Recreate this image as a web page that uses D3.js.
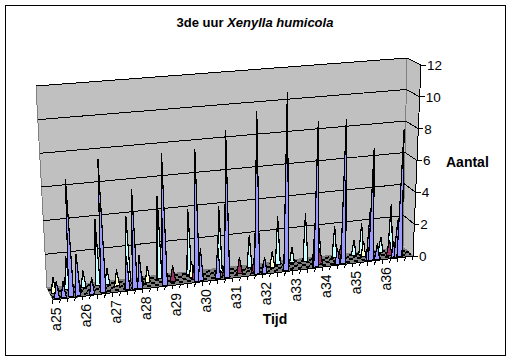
<!DOCTYPE html>
<html>
<head>
<meta charset="utf-8">
<script src="https://cdn.jsdelivr.net/npm/d3@7"></script>
<style>
  html, body { margin: 0; padding: 0; background: #fff; }
  text { font-family: "Liberation Sans", Arial, sans-serif; fill: #000; }
  .crisp { shape-rendering: crispEdges; }
</style>
</head>
<body>
<div id="chart"></div>
<script>
// tick labels along the time axis (each one covers 4 tick marks)
var timeLabels = ["a25","a26","a27","a28","a29","a30","a31","a32","a33","a34","a35","a36"];
var valueMax = 12;

// peaks: position in tick units, height in animals
var bluePos = [0.6,1.5,2.5,3.4,5.3,6.8,10,11,11.7,15,19.3,19.8,22.1,23.3,27.3,28.3,31.2,35,35.2,38,38.8,42.2,42.5,43.3,45.5,45.9,46.3];
var blueVal = [1,1,7,2.5,1,8,2,6,2,8,8,2,2,9,10,1,11,3,9,1,9,3,7,1,1,2.3,8];

var maroonPos = [3.7,12,16.3,19.2,23.3,25.2,27.2,35.9,38.7,45.2];
var maroonVal = [1,1,1,1,1,1,1,1,1,1];

var yellowPos = [0.5,9,13.1,19,29.8,42];
var yellowVal = [1,1,1,1,1,1];

var cyanPos = [2.5,4.7,6.6,7.9,10.7,14.9,18.9,23,27,30.8,32.7,34.5,36.3,38.4,41,42,44.6,45.9];
var cyanVal = [2,1,4,1,4,5,4,4,2,3,1,3,2,2,1,2,1,3];

var width = 512, height = 360;
var tickCount = timeLabels.length * 4;

var svg = d3.select("#chart").append("svg")
    .attr("width", width)
    .attr("height", height)
    .style("display", "block");

// chart frame
svg.append("rect")
    .attr("class", "crisp")
    .attr("x", 5).attr("y", 5)
    .attr("width", 500).attr("height", 350)
    .attr("fill", "#fff")
    .attr("stroke", "#000");

// the eight corners of the 3d box as excel drew them
var box = {
    frontBottom: [[53, 300], [413, 256]],
    frontTop: [[42, 97], [421, 65]],
    backBottom: [[47, 288], [403, 247]],
    backTop: [[36, 86], [407, 58]]
};

var catScale = d3.scaleLinear().domain([0, tickCount]).range([0, 1]);
var valScale = d3.scaleLinear().domain([0, valueMax]).range([0, 1]);

function mix(a, b, t) {
    return [a[0] + (b[0] - a[0]) * t, a[1] + (b[1] - a[1]) * t];
}

// cat along the time axis, val up, depth 0 = front, 1 = back
function project(cat, val, depth) {
    var t = catScale(cat), h = valScale(val);
    var bottom = mix(mix(box.frontBottom[0], box.frontBottom[1], t), mix(box.backBottom[0], box.backBottom[1], t), depth);
    var top = mix(mix(box.frontTop[0], box.frontTop[1], t), mix(box.backTop[0], box.backTop[1], t), depth);
    return mix(bottom, top, h);
}

var line = d3.line();

// walls
svg.append("path")
    .attr("class", "crisp")
    .attr("d", line([project(0, 0, 1), project(0, valueMax, 1), project(tickCount, valueMax, 1), project(tickCount, 0, 1)]) + "Z")
    .attr("fill", "#c0c0c0")
    .attr("stroke", "#808080");
svg.append("path")
    .attr("class", "crisp")
    .attr("d", line([project(tickCount, 0, 1), project(tickCount, valueMax, 1), project(tickCount, valueMax, 0), project(tickCount, 0, 0)]) + "Z")
    .attr("fill", "#c0c0c0")
    .attr("stroke", "#808080");

// floor
svg.append("path")
    .attr("class", "crisp")
    .attr("d", line([project(0, 0, 0), project(0, 0, 1), project(tickCount, 0, 1), project(tickCount, 0, 0)]) + "Z")
    .attr("fill", "#808080")
    .attr("stroke", "#808080");

// the zero lines of the series show up as dashes on the floor
var floorRows = [0.2, 0.42, 0.62, 0.82];
svg.selectAll(".floor-row")
    .data(floorRows)
    .enter().append("path")
    .attr("class", "floor-row crisp")
    .attr("d", function(d) { return line([project(0, 0, d), project(tickCount, 0, d)]); })
    .attr("stroke", "#000")
    .attr("stroke-width", 2)
    .attr("stroke-dasharray", "4 4")
    .attr("stroke-dashoffset", function(d, i) { return i * 3; });

// gridlines, back wall then side wall
var valueTicks = valScale.ticks(6);
svg.selectAll(".grid")
    .data(valueTicks.filter(function(d) { return d > 0; }))
    .enter().append("path")
    .attr("class", "grid crisp")
    .attr("d", function(d) {
        return line([project(0, d, 1), project(tickCount, d, 1), project(tickCount, d, 0)]);
    })
    .attr("fill", "none")
    .attr("stroke", "#000");

// spikes, back series first
var seriesList = [
    {pos: cyanPos, val: cyanVal, color: "#ccffff", depth: 0.72, half: 0.33},
    {pos: yellowPos, val: yellowVal, color: "#ffffcc", depth: 0.5, half: 0.33},
    {pos: maroonPos, val: maroonVal, color: "#993366", depth: 0.3, half: 0.38},
    {pos: bluePos, val: blueVal, color: "#9999ff", depth: 0.08, half: 0.34}
];

seriesList.forEach(function(s) {
    svg.append("g").selectAll("path")
        .data(s.pos)
        .enter().append("path")
        .attr("class", "crisp")
        .attr("d", function(d, i) {
            return line([
                project(d - s.half, 0, s.depth),
                project(d, s.val[i], s.depth),
                project(d + s.half, 0, s.depth)
            ]) + "Z";
        })
        .attr("fill", s.color)
        .attr("stroke", "#000")
        .attr("stroke-width", 1.2)
        .attr("stroke-linejoin", "bevel");
});

// value axis on the front right edge
svg.append("path")
    .attr("class", "crisp")
    .attr("d", line([project(tickCount, 0, 0), project(tickCount, valueMax, 0)]))
    .attr("stroke", "#000");

var valueAxis = svg.append("g").selectAll("g")
    .data(valueTicks)
    .enter().append("g")
    .attr("transform", function(d) {
        var p = project(tickCount, d, 0);
        return "translate(" + p[0] + "," + p[1] + ")";
    });
valueAxis.append("line")
    .attr("class", "crisp")
    .attr("x2", 5)
    .attr("stroke", "#000");
valueAxis.append("text")
    .attr("x", 6)
    .attr("dy", "0.36em")
    .style("font-size", "13.5px")
    .text(function(d) { return d; });

// time axis
svg.append("path")
    .attr("class", "crisp")
    .attr("d", line([project(0, 0, 0), project(tickCount, 0, 0)]))
    .attr("stroke", "#000");
svg.append("g").selectAll("line")
    .data(d3.range(0, tickCount + 1))
    .enter().append("line")
    .attr("class", "crisp")
    .attr("x1", function(d) { return project(d, 0, 0)[0]; })
    .attr("y1", function(d) { return project(d, 0, 0)[1]; })
    .attr("x2", function(d) { return project(d, 0, 0)[0] - 1; })
    .attr("y2", function(d) { return project(d, 0, 0)[1] + 4; })
    .attr("stroke", "#000");
svg.append("g").selectAll("text")
    .data(timeLabels)
    .enter().append("text")
    .attr("transform", function(d, i) {
        var p = project(i * 4 + 0.5, 0, 0);
        return "translate(" + (p[0] + 4) + "," + (p[1] + 8) + ") rotate(-90)";
    })
    .attr("text-anchor", "end")
    .style("font-size", "14px")
    .text(function(d) { return d; });

// titles
var title = svg.append("text")
    .attr("x", 255).attr("y", 27)
    .attr("text-anchor", "middle")
    .style("font-size", "13px")
    .style("font-weight", "bold");
title.append("tspan").text("3de uur ");
title.append("tspan").style("font-style", "italic").text("Xenylla humicola");

svg.append("text")
    .attr("x", 275).attr("y", 324)
    .attr("text-anchor", "middle")
    .style("font-size", "14px")
    .style("font-weight", "bold")
    .text("Tijd");

svg.append("text")
    .attr("x", 446).attr("y", 167)
    .style("font-size", "14px")
    .style("font-weight", "bold")
    .text("Aantal");
</script>
</body>
</html>
